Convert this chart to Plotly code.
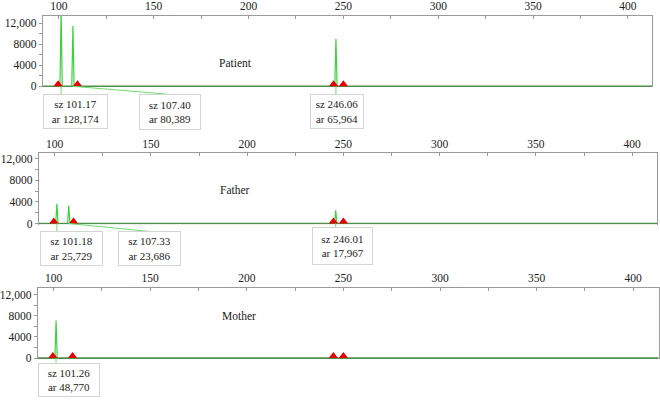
import plotly.graph_objects as go

# ---------------- data ----------------
panels = ["Patient", "Father", "Mother"]

patient_peak_sizes = [101.17, 107.40, 246.06]
patient_peak_heights = [14500, 11500, 9000]
patient_peak_areas = ["128,174", "80,389", "65,964"]

father_peak_sizes = [101.18, 107.33, 246.01]
father_peak_heights = [3650, 3350, 2450]
father_peak_areas = ["25,729", "23,686", "17,967"]

mother_peak_sizes = [101.26]
mother_peak_heights = [7100]
mother_peak_areas = ["48,770"]

bin_markers = [99.6, 109.8, 244.8, 250.0]

x_tickvals = [100, 150, 200, 250, 300, 350, 400]
y_tickvals = [0, 4000, 8000, 12000]
y_ticktext = ["0", "4000", "8000", "12,000"]

# ---------------- layout geometry (pixels) ----------------
W, H = 660, 402
geom = [
    dict(l=38, r=652, x100=54.3, x400=627.7, t=13.3, b=86.0, y0=85.0, y12=20.7),
    dict(l=34, r=657, x100=50.0, x400=632.0, t=153.3, b=226.0, y0=225.0, y12=159.0),
    dict(l=33, r=658.7, x100=49.0, x400=633.0, t=290.7, b=363.3, y0=362.3, y12=297.7),
]
boxes = [
    [(38, 93, 103, 128, None), (135, 93, 197, 129, 157.0), (307, 93, 361, 128, None)],
    [(35, 233, 98, 268, None), (114, 233, 177, 268, 149.0), (309, 229, 370, 267, None)],
    [(33, 367, 95, 401, None)],
]
label_pos = [(232, 53), (232, 191), (236, 328)]

FONT = "Liberation Serif"
TXT = "#222222"
PEAK_GREEN = "#3fcf3f"
BASE_GREEN = "#4f8f4f"
LINK_GREEN = "#6fdc6f"
AXIS_GREY = "#9a9a9a"

def px(x):
    return x / W

def py(y):
    return 1 - y / H

fig = go.Figure()
layout_extra = {}
annotations = []
shapes = []

series = [
    (patient_peak_sizes, patient_peak_heights, patient_peak_areas),
    (father_peak_sizes, father_peak_heights, father_peak_areas),
    (mother_peak_sizes, mother_peak_heights, mother_peak_areas),
]

half_w = 0.6
for i, (name, g, (sizes, heights, areas)) in enumerate(zip(panels, geom, series)):
    xs = (g["x400"] - g["x100"]) / 300.0
    xr = [100 + (g["l"] - g["x100"]) / xs, 100 + (g["r"] - g["x100"]) / xs]
    ys = (g["y0"] - g["y12"]) / 12000.0
    yr = [-(g["b"] - g["y0"]) / ys, (g["y0"] - g["t"]) / ys]
    xa = "x" if i == 0 else f"x{i+1}"
    ya = "y" if i == 0 else f"y{i+1}"
    xkey = "xaxis" if i == 0 else f"xaxis{i+1}"
    ykey = "yaxis" if i == 0 else f"yaxis{i+1}"

    fig.add_trace(go.Scatter(x=xr, y=[0, 0], mode="lines", xaxis=xa, yaxis=ya,
                             line=dict(color=BASE_GREEN, width=1.6), hoverinfo="skip",
                             showlegend=False))
    px_list, py_list = [], []
    for s, h in zip(sizes, heights):
        px_list += [s - half_w, s, s + half_w, None]
        py_list += [0, h, 0, None]
    fig.add_trace(go.Scatter(x=px_list, y=py_list, mode="lines", xaxis=xa, yaxis=ya,
                             line=dict(color=PEAK_GREEN, width=1.2), showlegend=False))
    my = 2.1 / ys
    fig.add_trace(go.Scatter(x=bin_markers, y=[my] * len(bin_markers), mode="markers",
                             xaxis=xa, yaxis=ya,
                             marker=dict(symbol="triangle-up", size=8, color="#e60000",
                                         line=dict(width=0)),
                             showlegend=False))

    layout_extra[xkey] = dict(
        domain=[px(g["l"]), px(g["r"])], range=xr, anchor=ya, side="top",
        tickvals=x_tickvals, ticks="inside", ticklen=3, tickcolor=AXIS_GREY,
        minor=dict(tickvals=[125, 175, 225, 275, 325, 375], ticks="inside", ticklen=3,
                   tickcolor=AXIS_GREY),
        showline=True, linecolor=AXIS_GREY, linewidth=1, showgrid=False, zeroline=False,
        tickfont=dict(family=FONT, size=11.5, color=TXT),
    )
    layout_extra[ykey] = dict(
        domain=[py(g["b"]), py(g["t"])], range=yr, anchor=xa,
        tickvals=y_tickvals, ticktext=y_ticktext, ticks="outside", ticklen=3,
        tickcolor=AXIS_GREY,
        minor=dict(tickvals=[2000, 6000, 10000], ticks="outside", ticklen=3,
                   tickcolor=AXIS_GREY),
        showline=True, mirror=True, linecolor=AXIS_GREY, linewidth=1,
        showgrid=False, zeroline=False,
        tickfont=dict(family=FONT, size=11.5, color=TXT),
    )

    lx, ly = label_pos[i]
    annotations.append(dict(x=px(lx), y=py(ly), xref="paper", yref="paper", text=name,
                            showarrow=False, font=dict(family=FONT, size=11.5, color=TXT)))

    for (bl, bt, br, bb, endx), s, a in zip(boxes[i], sizes, areas):
        annotations.append(dict(
            x=px(bl), y=py(bt), xref="paper", yref="paper", xanchor="left", yanchor="top",
            text=f"sz {s:.2f}<br>ar {a}", showarrow=False, align="center",
            width=br - bl - 8, height=bb - bt - 8, borderpad=3,
            bordercolor="#d4d4d4", borderwidth=1, bgcolor="white",
            font=dict(family=FONT, size=11, color=TXT)))
        x_end = s if endx is None else endx
        shapes.append(dict(type="line", xref=xa, yref="paper",
                           x0=s, x1=x_end, y0=py(g["y0"]), y1=py(bt),
                           line=dict(color=LINK_GREEN, width=1)))

fig.update_layout(
    width=W, height=H, margin=dict(l=0, r=0, t=0, b=0),
    paper_bgcolor="white", plot_bgcolor="white",
    annotations=annotations, shapes=shapes, **layout_extra,
)

fig.write_html("out.html")
